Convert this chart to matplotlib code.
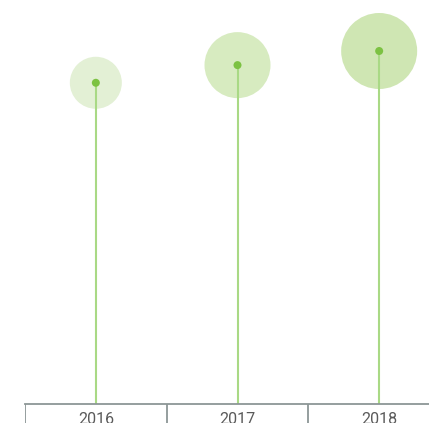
import numpy as np
import matplotlib.pyplot as plt
from matplotlib import font_manager

years = ["2016", "2017", "2018"]
values = [9.1, 9.6, 10.0]
bubble = [26, 33, 38]          # bubble radius, px
bubble_colors = ["#e3f0d5", "#d7ebc0", "#cfe6b3"]

names = {f.name for f in font_manager.fontManager.ttflist}
label_font = "Liberation Sans Narrow" if "Liberation Sans Narrow" in names else "Roboto"

W, H, dpi = 429, 423, 100
fig = plt.figure(figsize=(W / dpi, H / dpi), dpi=dpi)

# axis runs from x=25 to past the right edge, baseline at y=404
left, right = 25, 450
bottom = 404
ax = fig.add_axes([left / W, (H - bottom) / H, (right - left) / W, bottom / H])
ax.set_xlim(0, 3)
ax.set_ylim(0, 404 / 35.3)
ax.axis("off")

x = np.arange(len(years)) + 0.5
px2pt = 72 / dpi
sizes = [(2 * r * px2pt) ** 2 for r in bubble]

ax.scatter(x, values, s=sizes, c=bubble_colors, edgecolors="none", zorder=1, clip_on=False)
ax.vlines(x, 0, values, color="#a9d985", lw=1.5, zorder=2)
ax.scatter(x, values, s=(8 * px2pt) ** 2, c="#7cc242", edgecolors="none", zorder=3, clip_on=False)

# category axis with separators
axb = fig.add_axes([left / W, 0, (right - left) / W, (H - bottom) / H])
axb.set_xlim(0, 3)
axb.set_ylim(0, 1)
axb.axis("off")
axb.axhline(1, color="#8c9696", lw=1.3, clip_on=False)
axb.vlines([0, 1, 2, 3], 0, 1, color="#8c9696", lw=1.3)
for xi, lab in zip(x, years):
    axb.text(xi, 0.6, lab, ha="center", va="top", fontsize=11.5, color="#5a5a5a",
             family=label_font)

fig.savefig("out.png", dpi=dpi)
